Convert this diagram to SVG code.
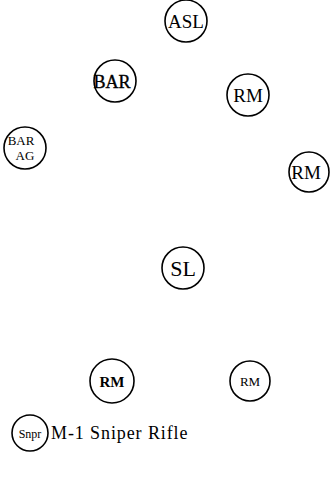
<svg xmlns="http://www.w3.org/2000/svg" width="330" height="486" viewBox="0 0 330 486">
<style>
circle{fill:#fff;stroke:#000;stroke-width:1.6}
text{font-family:"Liberation Serif","Times New Roman",serif;fill:#000;text-anchor:middle}
</style>
<rect width="330" height="486" fill="#fff"/>
<g id="connectors"></g>
<g id="asl"><circle cx="186" cy="21" r="21"/><text x="186" y="28" font-size="19">ASL</text></g>
<g id="bar"><circle cx="115" cy="81" r="21"/><text x="112" y="88" font-size="18" stroke="#000" stroke-width="0.4">BAR</text></g>
<g id="rm1"><circle cx="248" cy="95" r="21"/><text x="248" y="102" font-size="19">RM</text></g>
<g id="barag"><circle cx="25" cy="148" r="21"/><text x="21" y="145" font-size="13">BAR</text><text x="25" y="160" font-size="13">AG</text></g>
<g id="rm2"><circle cx="309" cy="172" r="20"/><text x="306" y="179" font-size="19">RM</text></g>
<g id="sl"><circle cx="183" cy="268" r="21"/><text x="183" y="276" font-size="22">SL</text></g>
<g id="rm3"><circle cx="112" cy="381" r="22"/><text x="112" y="387" font-size="15" font-weight="bold">RM</text></g>
<g id="rm4"><circle cx="250" cy="381" r="20"/><text x="250" y="386" font-size="13">RM</text></g>
<g id="snpr"><circle cx="30" cy="433" r="18"/><text x="30" y="438" font-size="12">Snpr</text></g>
<text x="51" y="439" font-size="18" letter-spacing="0.9" style="text-anchor:start">M-1 Sniper Rifle</text>
</svg>
